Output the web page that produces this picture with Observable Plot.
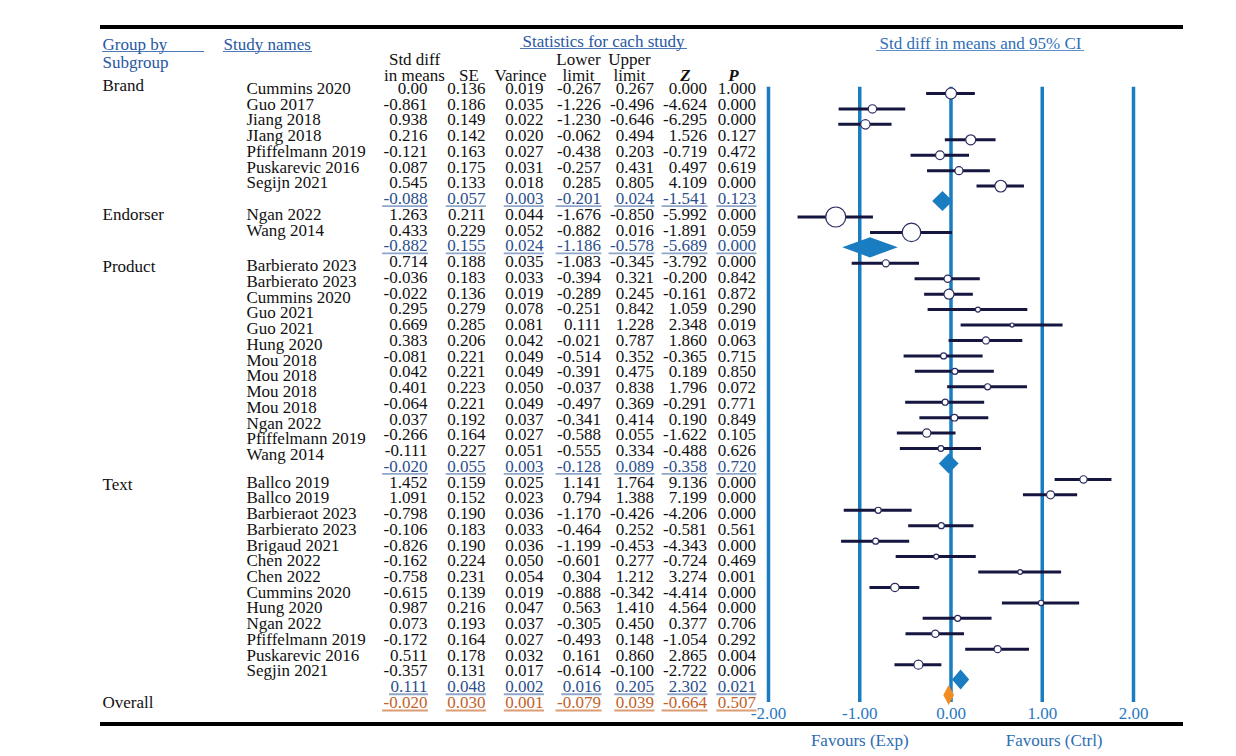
<!DOCTYPE html>
<html><head><meta charset="utf-8">
<script src="https://cdn.jsdelivr.net/npm/d3@7"></script>
<script src="https://cdn.jsdelivr.net/npm/@observablehq/plot@0.6"></script>
<style>
html,body{margin:0;padding:0;background:#fff;}
#wrap{position:relative;width:1236px;height:756px;overflow:hidden;background:#fff;}
#wrap svg{position:absolute;left:0;top:0;}
.hrule{position:absolute;background:#000;}
.uline{position:absolute;height:1.3px;}
</style></head><body>
<div id="wrap">
  <div class="hrule" style="left:100px;top:25px;width:1083px;height:3.5px"></div>
  <div class="hrule" style="left:100px;top:722px;width:1083px;height:4px"></div>
  <div class="uline" style="left:102px;top:51px;width:102px;background:#4f78b6"></div>
  <div class="uline" style="left:223px;top:51px;width:89px;background:#4f78b6"></div>
  <div class="uline" style="left:520px;top:48px;width:167px;background:#4f78b6"></div>
  <div class="uline" style="left:876px;top:50px;width:208px;background:#5d8fca"></div>
</div>
<script>
// ---------- data ----------
const subgroups = ["Brand", "Endorser", "Product", "Text"];
const studyGroup = [
  "Brand","Brand","Brand","Brand","Brand","Brand","Brand",
  "Endorser","Endorser",
  "Product","Product","Product","Product","Product","Product","Product","Product","Product","Product","Product","Product","Product",
  "Text","Text","Text","Text","Text","Text","Text","Text","Text","Text","Text","Text","Text"
];
const studyName = [
  "Cummins 2020","Guo 2017","Jiang 2018","JIang 2018","Pfiffelmann 2019","Puskarevic 2016","Segijn 2021",
  "Ngan 2022","Wang 2014",
  "Barbierato 2023","Barbierato 2023","Cummins 2020","Guo 2021","Guo 2021","Hung 2020","Mou 2018","Mou 2018","Mou 2018","Mou 2018","Ngan 2022","Pfiffelmann 2019","Wang 2014",
  "Ballco 2019","Ballco 2019","Barbieraot 2023","Barbierato 2023","Brigaud 2021","Chen 2022","Chen 2022","Cummins 2020","Hung 2020","Ngan 2022","Pfiffelmann 2019","Puskarevic 2016","Segjin 2021"
];
const smd = ["0.00","-0.861","0.938","0.216","-0.121","0.087","0.545",
  "1.263","0.433",
  "0.714","-0.036","-0.022","0.295","0.669","0.383","-0.081","0.042","0.401","-0.064","0.037","-0.266","-0.111",
  "1.452","1.091","-0.798","-0.106","-0.826","-0.162","-0.758","-0.615","0.987","0.073","-0.172","0.511","-0.357"];
const se = ["0.136","0.186","0.149","0.142","0.163","0.175","0.133",
  "0.211","0.229",
  "0.188","0.183","0.136","0.279","0.285","0.206","0.221","0.221","0.223","0.221","0.192","0.164","0.227",
  "0.159","0.152","0.190","0.183","0.190","0.224","0.231","0.139","0.216","0.193","0.164","0.178","0.131"];
const variance = ["0.019","0.035","0.022","0.020","0.027","0.031","0.018",
  "0.044","0.052",
  "0.035","0.033","0.019","0.078","0.081","0.042","0.049","0.049","0.050","0.049","0.037","0.027","0.051",
  "0.025","0.023","0.036","0.033","0.036","0.050","0.054","0.019","0.047","0.037","0.027","0.032","0.017"];
const lower = ["-0.267","-1.226","-1.230","-0.062","-0.438","-0.257","0.285",
  "-1.676","-0.882",
  "-1.083","-0.394","-0.289","-0.251","0.111","-0.021","-0.514","-0.391","-0.037","-0.497","-0.341","-0.588","-0.555",
  "1.141","0.794","-1.170","-0.464","-1.199","-0.601","0.304","-0.888","0.563","-0.305","-0.493","0.161","-0.614"];
const upper = ["0.267","-0.496","-0.646","0.494","0.203","0.431","0.805",
  "-0.850","0.016",
  "-0.345","0.321","0.245","0.842","1.228","0.787","0.352","0.475","0.838","0.369","0.414","0.055","0.334",
  "1.764","1.388","-0.426","0.252","-0.453","0.277","1.212","-0.342","1.410","0.450","0.148","0.860","-0.100"];
const zValue = ["0.000","-4.624","-6.295","1.526","-0.719","0.497","4.109",
  "-5.992","-1.891",
  "-3.792","-0.200","-0.161","1.059","2.348","1.860","-0.365","0.189","1.796","-0.291","0.190","-1.622","-0.488",
  "9.136","7.199","-4.206","-0.581","-4.343","-0.724","3.274","-4.414","4.564","0.377","-1.054","2.865","-2.722"];
const pValue = ["1.000","0.000","0.000","0.127","0.472","0.619","0.000",
  "0.000","0.059",
  "0.000","0.842","0.872","0.290","0.019","0.063","0.715","0.850","0.072","0.771","0.849","0.105","0.626",
  "0.000","0.000","0.000","0.561","0.000","0.469","0.001","0.000","0.000","0.706","0.292","0.004","0.006"];
// effect as drawn in the forest plot
const plottedEffect = [0, -0.861, -0.938, 0.216, -0.121, 0.087, 0.545,
  -1.263, -0.433,
  -0.714, -0.036, -0.022, 0.295, 0.669, 0.383, -0.081, 0.042, 0.401, -0.064, 0.037, -0.266, -0.111,
  1.452, 1.091, -0.798, -0.106, -0.826, -0.162, 0.758, -0.615, 0.987, 0.073, -0.172, 0.511, -0.357];
// relative weight (%) shown by marker size
const relWeight = [16.5, 9.4, 11.8, 13.6, 10.3, 8.7, 18.6,
  54, 46,
  6.7, 7.2, 13.6, 3.4, 2.2, 6.7, 4.9, 4.9, 4.9, 4.9, 6.1, 9.4, 4.4,
  7.2, 8.7, 4.9, 4.9, 4.9, 3.4, 3.0, 9.4, 3.8, 4.9, 7.2, 6.7, 11.0];

// subgroup summaries (Brand, Endorser, Product, Text)
const sumSmd = ["-0.088","-0.882","-0.020","0.111"];
const sumSe = ["0.057","0.155","0.055","0.048"];
const sumVariance = ["0.003","0.024","0.003","0.002"];
const sumLower = ["-0.201","-1.186","-0.128","0.016"];
const sumUpper = ["0.024","-0.578","0.089","0.205"];
const sumZ = ["-1.541","-5.689","-0.358","2.302"];
const sumP = ["0.123","0.000","0.720","0.021"];

// overall
const overallStats = {smd: "-0.020", se: "0.030", variance: "0.001", lower: "-0.079", upper: "0.039", z: "-0.664", p: "0.507"};

const columnKeys = ["smd","se","variance","lower","upper","z","p"];
const headerLine1 = ["Std diff","","","Lower","Upper","",""];
const headerLine2 = ["in means","SE","Varince","limit","limit","Z","P"];
const tickValues = [-2, -1, 0, 1, 2];
const favourLabels = ["Favours (Exp)", "Favours (Ctrl)"];

// ---------- build rows ----------
const studyRows = [], summaryRows = [], groupRows = [];
let r = 0;
subgroups.forEach((g, gi) => {
  groupRows.push({group: g, row: r});
  studyGroup.forEach((sg, i) => {
    if (sg !== g) return;
    studyRows.push({group: g, name: studyName[i], smd: smd[i], se: se[i], variance: variance[i],
      lower: lower[i], upper: upper[i], z: zValue[i], p: pValue[i],
      lo: +lower[i], hi: +upper[i], effect: plottedEffect[i], weight: relWeight[i], row: r++});
  });
  summaryRows.push({group: g, smd: sumSmd[gi], se: sumSe[gi], variance: sumVariance[gi],
    lower: sumLower[gi], upper: sumUpper[gi], z: sumZ[gi], p: sumP[gi], est: +sumSmd[gi],
    lo: +sumLower[gi], hi: +sumUpper[gi], row: r++});
});
const overallRow = {...overallStats, est: +overallStats.smd, lo: +overallStats.lower, hi: +overallStats.upper, row: r++};
groupRows.push({group: "Overall", row: overallRow.row});
const lastRow = overallRow.row;

// diamond vertices
const halfH = 0.65;
function diamond(s, id) {
  return [
    {id, x: s.lo, y1: s.row, y2: s.row},
    {id, x: s.est, y1: s.row - halfH, y2: s.row + halfH},
    {id, x: s.hi, y1: s.row, y2: s.row}
  ];
}
const subDiamonds = summaryRows.flatMap((s, i) => diamond(s, "g" + i));
const overallDiamond = diamond(overallRow, "overall");

// ---------- styling constants ----------
const FONT = "Liberation Serif, Times New Roman, serif";
const FS = 17;
const INK = "#111";
const HEAD_BLUE = "#2857a3";
const SUM_BLUE = "#2b4f8c";
const ORANGE = "#c4612a";
const LINE_BLUE = "#1a7dc2";
const colRight = [427, 485, 543, 600.5, 653.5, 706.5, 755.5];
const colHeadCenter = [414, 468.5, 520, 578, 629, 685, 733];
const groupShift = {Brand: -3, Endorser: 0, Product: 5, Text: 2, Overall: 0};

// text widths for the underlines of the summary cells
const ctx = document.createElement("canvas").getContext("2d");
ctx.font = `${FS}px "Liberation Serif"`;
const textWidth = s => ctx.measureText(s).width;
const underlineCells = (rows) => rows.flatMap(d => columnKeys.map((k, i) => ({
  row: d.row, x1: colRight[i] - textWidth(d[k]) - 1, x2: colRight[i] + 1
})));

// ---------- table layer ----------
const tableMarks = [];
const hdr = (text, dx, dy, opts = {}) => Plot.text([text], {text: d => d, frameAnchor: "top-left", dx, dy,
  lineAnchor: "middle", fontSize: FS, fontFamily: FONT, ...opts});
tableMarks.push(hdr("Group by", 102, 44, {fill: HEAD_BLUE, textAnchor: "start"}));
tableMarks.push(hdr("Subgroup", 102, 62, {fill: HEAD_BLUE, textAnchor: "start"}));
tableMarks.push(hdr("Study names", 223, 44, {fill: HEAD_BLUE, textAnchor: "start"}));
tableMarks.push(hdr("Statistics for cach study", 603, 41, {fill: HEAD_BLUE, textAnchor: "middle"}));
tableMarks.push(hdr("Std diff in means and 95% CI", 980, 43, {fill: "#2f6fb6", textAnchor: "middle"}));
columnKeys.forEach((k, i) => {
  if (headerLine1[i]) tableMarks.push(hdr(headerLine1[i], colHeadCenter[i], 59, {fill: INK, textAnchor: "middle"}));
  const bold = headerLine2[i] === "Z" || headerLine2[i] === "P";
  tableMarks.push(hdr(headerLine2[i], colHeadCenter[i], 75, {fill: INK, textAnchor: "middle",
    fontWeight: bold ? "bold" : "normal", fontStyle: bold ? "italic" : "normal"}));
});
// group labels
tableMarks.push(Plot.text(groupRows, {x: 102, y: d => d.row + groupShift[d.group] / 15.74, text: "group",
  textAnchor: "start", fill: INK, fontSize: FS, fontFamily: FONT}));
// study names
tableMarks.push(Plot.text(studyRows.filter(d => d.group !== "Product"), {x: 246, y: "row", text: "name",
  textAnchor: "start", fill: INK, fontSize: FS, fontFamily: FONT}));
tableMarks.push(Plot.text(studyRows.filter(d => d.group === "Product"), {x: 246, y: "row", dy: 4, text: "name",
  textAnchor: "start", fill: INK, fontSize: FS, fontFamily: FONT}));
// underlines of summary / overall cells
tableMarks.push(Plot.ruleY(underlineCells(summaryRows), {y: "row", x1: "x1", x2: "x2", dy: 7.5,
  stroke: "#8ea6c9", strokeWidth: 1.8}));
tableMarks.push(Plot.ruleY(underlineCells([overallRow]), {y: "row", x1: "x1", x2: "x2", dy: 8,
  stroke: "#dc9c74", strokeWidth: 1.8}));
// numeric columns
columnKeys.forEach((k, i) => {
  tableMarks.push(Plot.text(studyRows, {x: colRight[i], y: "row", text: k, textAnchor: "end",
    fill: INK, fontSize: FS, fontFamily: FONT}));
  tableMarks.push(Plot.text(summaryRows, {x: colRight[i], y: "row", text: k, textAnchor: "end",
    fill: SUM_BLUE, fontSize: FS, fontFamily: FONT}));
  tableMarks.push(Plot.text([overallRow], {x: colRight[i], y: "row", text: k, textAnchor: "end",
    fill: ORANGE, fontSize: FS, fontFamily: FONT}));
});

const table = Plot.plot({
  width: 1236, height: 756,
  marginTop: 0, marginRight: 0, marginBottom: 0, marginLeft: 0,
  x: {domain: [0, 1236], range: [0, 1236], axis: null},
  y: {domain: [0, lastRow], range: [88, 702], axis: null},
  style: {background: "transparent", fontFamily: FONT, fontSize: FS + "px", overflow: "visible"},
  marks: tableMarks
});

// ---------- forest layer ----------
const forest = Plot.plot({
  width: 1236, height: 756,
  marginLeft: 768, marginRight: 103, marginTop: 0, marginBottom: 52,
  x: {domain: [-2, 2]},
  y: {domain: [0, lastRow], range: [93, 695], axis: null},
  r: {domain: [0, 54], range: [0, 10]},
  style: {background: "transparent", fontFamily: FONT, fontSize: FS + "px", overflow: "visible"},
  marks: [
    Plot.ruleX(tickValues, {y1: -0.4, y2: lastRow + 0.45, stroke: LINE_BLUE, strokeWidth: 3.5}),
    Plot.ruleY(studyRows, {y: "row", x1: "lo", x2: "hi", stroke: "#15163f", strokeWidth: 3}),
    Plot.dot(studyRows, {x: "effect", y: "row", r: "weight", fill: "white", stroke: "#2b2b60", strokeWidth: 1.2}),
    Plot.areaY(subDiamonds, {x: "x", y1: "y1", y2: "y2", z: "id", fill: LINE_BLUE, curve: "linear"}),
    Plot.areaY(overallDiamond, {x: "x", y1: "y1", y2: "y2", z: "id", fill: "#f28c22", curve: "linear"}),
    Plot.axisX(tickValues, {anchor: "bottom", tickSize: 0, tickPadding: 2, tickFormat: d => d.toFixed(2),
      fill: "#2a78c2", fontSize: FS, fontFamily: FONT, label: null}),
    Plot.text([{label: favourLabels[0], x: -1}, {label: favourLabels[1], x: 1.13}],
      {x: "x", y: lastRow + 2.95, text: "label", fill: "#2b6db3", fontSize: FS, fontFamily: FONT})
  ]
});

const wrap = document.getElementById("wrap");
wrap.appendChild(table);
wrap.appendChild(forest);
</script>
</body></html>
